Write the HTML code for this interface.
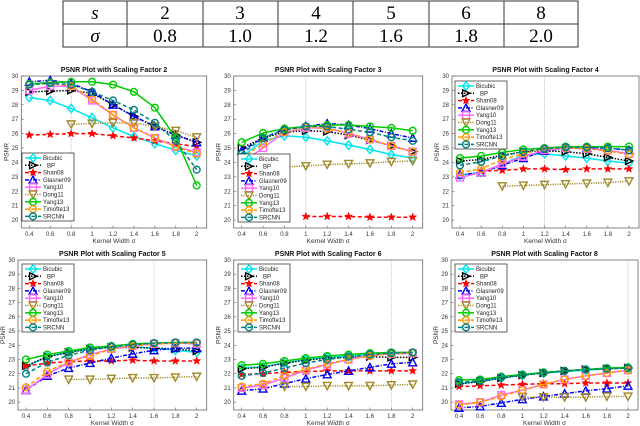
<!DOCTYPE html>
<html><head><meta charset="utf-8"><style>
html,body{margin:0;padding:0;background:#fff;width:640px;height:426px;overflow:hidden}
svg{display:block}
</style></head><body>
<svg id="fig" width="640" height="426" viewBox="0 0 640 426" xmlns="http://www.w3.org/2000/svg" font-family="Liberation Sans, sans-serif">
<g font-family="Liberation Serif, serif" font-size="19" text-anchor="middle" fill="#000">
<rect x="63" y="1" width="515" height="46" fill="none" stroke="#333" stroke-width="1"/>
<line x1="63" y1="24" x2="578" y2="24" stroke="#333"/>
<g stroke="#333"><line x1="127" y1="1" x2="127" y2="47"/><line x1="203" y1="1" x2="203" y2="47"/><line x1="278" y1="1" x2="278" y2="47"/><line x1="353" y1="1" x2="353" y2="47"/><line x1="429" y1="1" x2="429" y2="47"/><line x1="504" y1="1" x2="504" y2="47"/></g>
<text x="95" y="19" font-style="italic">s</text>
<text x="95" y="42" font-style="italic">σ</text>
<text x="165" y="19">2</text><text x="240" y="19">3</text><text x="316" y="19">4</text><text x="391" y="19">5</text><text x="466" y="19">6</text><text x="541" y="19">8</text>
<text x="165" y="42">0.8</text><text x="240" y="42">1.0</text><text x="316" y="42">1.2</text><text x="391" y="42">1.6</text><text x="466" y="42">1.8</text><text x="541" y="42">2.0</text>
</g>
</svg>
<script>
const kernelWidths = [0.4,0.6,0.8,1.0,1.2,1.4,1.6,1.8,2.0];
const yTicks = [20,21,22,23,24,25,26,27,28,29,30];
const xTickLabels = ['0.4','0.6','0.8','1','1.2','1.4','1.6','1.8','2'];
const scalingFactors = [2,3,4,5,6,8];
const markedSigma = [0.8,1.0,1.2,1.6,1.8,2.0];
const methodNames = ['Bicubic','BP','Shan08','Glasner09','Yang10','Dong11','Yang13','Timofte13','SRCNN'];
const N = null;
const psnrSF2 = [
[28.5,28.3,27.75,27.1,26.4,25.8,25.3,24.85,24.45],
[28.9,28.95,29.0,28.8,28.0,27.2,26.5,25.9,25.4],
[25.9,25.95,26.0,26.0,25.85,25.7,25.5,25.3,25.1],
[29.6,29.7,29.5,28.9,28.0,27.2,26.5,25.9,25.4],
[29.0,29.3,29.3,28.3,27.3,26.4,25.7,25.1,24.7],
[N,N,26.65,26.7,26.75,26.75,26.5,26.2,25.75],
[29.45,29.55,29.6,29.6,29.4,28.9,27.8,25.7,22.4],
[29.4,29.5,29.3,28.4,27.3,26.4,25.7,25.1,24.6],
[29.4,29.5,29.4,28.9,28.3,27.65,26.75,25.5,23.5]];
const psnrSF3 = [
[24.4,25.5,25.85,25.75,25.5,25.2,24.9,24.55,24.3],
[25.0,25.7,26.1,26.2,26.15,25.9,25.55,25.15,24.75],
[N,N,N,20.25,20.25,20.25,20.2,20.2,20.2],
[24.8,25.7,26.3,26.5,26.7,26.6,26.35,26.0,25.7],
[24.0,25.0,26.1,26.4,26.4,26.0,25.6,25.15,24.75],
[N,N,23.7,23.75,23.85,23.9,23.95,24.05,24.1],
[25.4,26.05,26.35,26.5,26.6,26.6,26.5,26.4,26.2],
[24.3,25.3,26.1,26.45,26.35,26.05,25.6,25.15,24.75],
[24.6,25.7,26.25,26.5,26.5,26.3,26.1,25.75,25.5]];
const psnrSF4 = [
[23.1,23.3,23.9,24.5,24.6,24.45,24.3,24.1,23.95],
[24.1,24.2,24.5,24.75,24.8,24.75,24.6,24.35,24.1],
[N,23.4,23.45,23.55,23.55,23.5,23.55,23.55,23.55],
[23.15,23.3,23.8,24.3,24.8,25.0,25.0,25.0,24.85],
[22.95,23.3,23.9,24.4,24.85,25.0,24.95,24.85,24.6],
[N,N,22.35,22.4,22.45,22.5,22.55,22.6,22.7],
[24.3,24.45,24.7,24.9,25.0,25.1,25.1,25.1,25.1],
[23.3,23.55,24.2,24.6,24.95,25.0,24.95,24.8,24.55],
[23.8,24.05,24.45,24.75,24.95,25.05,25.05,25.0,24.85]];
const psnrSF5 = [
[22.5,23.2,23.5,23.75,23.9,23.9,23.8,23.65,23.5],
[22.55,23.2,23.5,23.75,23.85,23.85,23.8,23.75,23.6],
[22.55,22.75,22.85,22.9,22.9,22.95,22.9,22.9,22.9],
[20.85,21.85,22.4,22.75,23.1,23.4,23.65,23.8,23.8],
[20.85,21.95,22.8,23.35,23.75,23.95,24.1,24.15,24.1],
[N,N,21.6,21.6,21.65,21.7,21.7,21.75,21.8],
[23.0,23.35,23.6,23.85,23.95,24.1,24.15,24.2,24.2],
[21.05,22.15,22.85,23.25,23.75,23.95,24.1,24.15,24.15],
[22.0,22.8,23.3,23.65,23.9,24.05,24.15,24.2,24.2]];
const psnrSF6 = [
[22.4,22.5,22.75,23.0,23.15,23.25,23.35,23.4,23.45],
[22.35,22.45,22.75,22.95,23.1,23.15,23.2,23.15,23.15],
[21.95,22.0,22.1,22.15,22.2,22.2,22.2,22.2,22.2],
[20.8,20.95,21.3,21.65,21.95,22.2,22.45,22.7,22.8],
[21.0,21.2,21.7,22.25,22.65,23.0,23.3,23.4,23.45],
[N,N,21.1,21.1,21.15,21.15,21.15,21.2,21.25],
[22.6,22.7,22.9,23.1,23.25,23.35,23.45,23.5,23.5],
[21.1,21.3,21.85,22.3,22.7,23.0,23.25,23.4,23.45],
[21.85,22.05,22.4,22.75,23.0,23.2,23.35,23.45,23.5]];
const psnrSF8 = [
[21.3,21.45,21.7,21.9,22.05,22.15,22.25,22.35,22.4],
[21.3,21.45,21.7,21.9,22.05,22.2,22.3,22.35,22.4],
[21.1,21.15,21.2,21.25,21.3,21.3,21.35,21.35,21.35],
[19.6,19.7,19.95,20.2,20.4,20.6,20.8,20.95,21.15],
[19.85,20.0,20.5,20.85,21.25,21.6,21.85,22.05,22.25],
[N,N,N,20.35,20.35,20.35,20.35,20.4,20.4],
[21.55,21.6,21.8,21.95,22.1,22.2,22.3,22.4,22.45],
[19.8,20.0,20.4,20.85,21.25,21.6,21.85,22.05,22.25],
[21.4,21.5,21.75,21.9,22.05,22.2,22.3,22.35,22.4]];
const allPsnr = [psnrSF2,psnrSF3,psnrSF4,psnrSF5,psnrSF6,psnrSF8];

const styles = [
 {c:'#00e5ee',d:'',w:1.5,m:'diamond'},
 {c:'#000',d:'1.5,1.5',w:1.5,m:'rtri'},
 {c:'#ff0000',d:'4,2.5',w:1.5,m:'star'},
 {c:'#0000ee',d:'4,1.5,1,1.5',w:1.5,m:'tri'},
 {c:'#ff66ff',d:'',w:1.5,m:'square'},
 {c:'#a08a2a',d:'1.2,1.2',w:1.5,m:'dtri'},
 {c:'#00cc00',d:'',w:1.5,m:'circle'},
 {c:'#ff9900',d:'4,2.5',w:1.5,m:'circle'},
 {c:'#008080',d:'4,2.5',w:1.5,m:'circle'}];
const panels = [
 {px0:29.3,px1:196.7,top:76,bot:228,leg:[22,153]},
 {px0:241.7,px1:412.7,top:76,bot:228,leg:[238,154]},
 {px0:460,px1:629,top:76,bot:228,leg:[455,81]},
 {px0:26,px1:196.7,top:260,bot:410,leg:[22,264]},
 {px0:241.7,px1:412.7,top:260,bot:410,leg:[238,264]},
 {px0:459,px1:628,top:260,bot:410,leg:[455,264]}];
const NS='http://www.w3.org/2000/svg';
const svg=document.getElementById('fig');
function mk(tag,attrs,parent){const e=document.createElementNS(NS,tag);for(const k in attrs)e.setAttribute(k,attrs[k]);parent.appendChild(e);return e;}
function marker(g,shape,x,y,col){
 const r=3.4;let e;
 if(shape==='circle'){e=mk('circle',{cx:x,cy:y,r:r,fill:'none',stroke:col,'stroke-width':1.4},g);}
 else if(shape==='square'){e=mk('rect',{x:x-r,y:y-r,width:2*r,height:2*r,fill:'none',stroke:col,'stroke-width':1.4},g);}
 else{let p;
  if(shape==='diamond')p=[[x,y-r-0.8],[x+r,y],[x,y+r+0.8],[x-r,y]];
  else if(shape==='rtri')p=[[x-r,y-r],[x+r+0.5,y],[x-r,y+r]];
  else if(shape==='tri')p=[[x,y-r-0.5],[x+r+0.5,y+r],[x-r-0.5,y+r]];
  else if(shape==='dtri')p=[[x-r-0.5,y-r],[x+r+0.5,y-r],[x,y+r+0.5]];
  else {p=[];for(let i=0;i<10;i++){const a=-Math.PI/2+i*Math.PI/5,rr=i%2?1.7:4.2;p.push([x+rr*Math.cos(a),y+rr*Math.sin(a)]);}}
  e=mk('polygon',{points:p.map(q=>q.join(',')).join(' '),fill:shape==='star'?col:'none',stroke:col,'stroke-width':shape==='star'?0.5:1.4},g);}
 
 
}
panels.forEach((P,pi)=>{
 const g=mk('g',{},svg);
 
 
 const kx=(P.px1-P.px0)/1.6;
 const left=P.px0-8, right=P.px1+10;
 const yAt20=P.top+(P.bot-P.top)*(10/10.55);
 const ky=(yAt20-P.top)/10;
 const X=v=>P.px0+(v-0.4)*kx;
 const Y=v=>P.top+(30-v)*ky;
 const box=mk('rect',{x:left,y:P.top,width:right-left,height:P.bot-P.top,fill:'#fff',stroke:'#666','stroke-width':0.8},g);
 
 
 const vl=mk('line',{x1:X(markedSigma[pi]),x2:X(markedSigma[pi]),y1:P.top,y2:P.bot,stroke:'#aaa','stroke-width':0.7,'stroke-dasharray':'1,1'},g);
 
 
 yTicks.forEach(t=>{
  mk('line',{x1:left,x2:left+2.5,y1:Y(t),y2:Y(t),stroke:'#666','stroke-width':0.6},g);
  const tx=mk('text',{x:left-3,y:Y(t)+2,'font-size':6,'text-anchor':'end',fill:'#333'},g);
  tx.textContent=t;
  
  
 });
 kernelWidths.forEach((v,i)=>{
  mk('line',{x1:X(v),x2:X(v),y1:P.bot,y2:P.bot-2.5,stroke:'#666','stroke-width':0.6},g);
  const tx=mk('text',{x:X(v),y:P.bot+8,'font-size':6,'text-anchor':'middle',fill:'#333'},g);
  tx.textContent=xTickLabels[i];
  
  
 });
 const tt=mk('text',{x:(left+right)/2,y:P.top-4,'font-size':7,'font-weight':'bold','text-anchor':'middle',fill:'#111'},g);
 tt.textContent='PSNR Plot with Scaling Factor '+scalingFactors[pi];
 
 
 const yl=mk('text',{x:0,y:0,'font-size':6.5,'text-anchor':'middle',fill:'#333',transform:'translate('+(left-13)+','+((P.top+P.bot)/2)+') rotate(-90)'},g);
 yl.textContent='PSNR';
 
 
 const xl=mk('text',{x:(left+right)/2,y:P.bot+15,'font-size':6.5,'text-anchor':'middle',fill:'#333'},g);
 xl.textContent='Kernel Width σ';
 
 
 allPsnr[pi].forEach((ser,si)=>{
  const S=styles[si];
  const sg=mk('g',{},g);
  
  
  const pts=[];ser.forEach((v,i)=>{if(v!==null)pts.push([X(kernelWidths[i]),Y(v)]);});
  const pl=mk('polyline',{points:pts.map(q=>q.join(',')).join(' '),fill:'none',stroke:S.c,'stroke-width':S.w,'stroke-dasharray':S.d},sg);
  
  
  pts.forEach(q=>marker(sg,S.m,q[0],q[1],S.c));
 });
 const lg=mk('g',{},g);
 
 
 const lx=P.leg[0],ly=P.leg[1];
 mk('rect',{x:lx,y:ly,width:52,height:68,fill:'#fff',stroke:'#222','stroke-width':0.7},lg);
 methodNames.forEach((nm,si)=>{
  const S=styles[si];const yy=ly+5+si*7.3;
  const en=mk('g',{},lg);
  
  
  mk('line',{x1:lx+3,x2:lx+19,y1:yy,y2:yy,stroke:S.c,'stroke-width':S.w,'stroke-dasharray':S.d},en);
  marker(en,S.m,lx+11,yy,S.c);
  const tx=mk('text',{x:lx+(si===1?25:21),y:yy+2,'font-size':6,fill:'#222'},en);
  tx.textContent=nm;
  
  
 });
});
</script>
</body></html>
